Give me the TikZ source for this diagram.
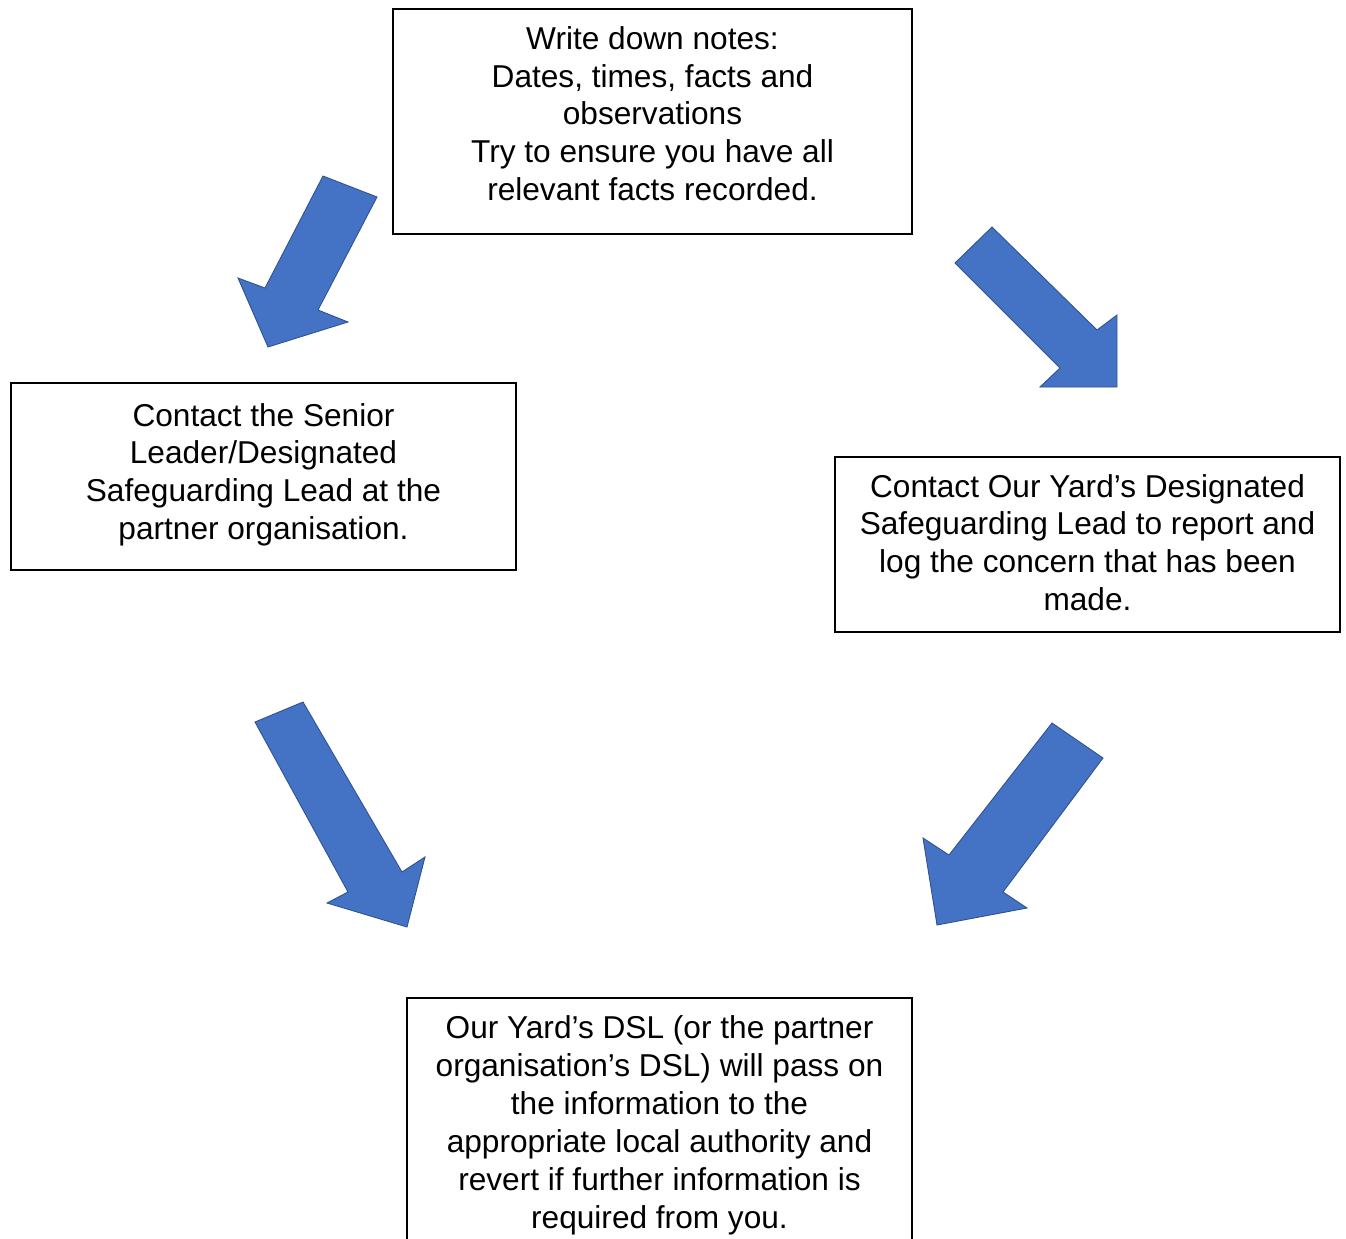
\documentclass[tikz,border=0pt]{standalone}
\usepackage{fontspec}
\setmainfont{Liberation Sans}
\usepackage{xcolor}
\definecolor{arrowblue}{HTML}{4472C4}
\definecolor{arrowedge}{HTML}{2F528F}
\newcommand{\liftby}[1]{\rule[-#1]{0pt}{0pt}}
\newcommand{\dropby}[1]{\rule{0pt}{\dimexpr 0.75em+#1\relax}}

\begin{document}
\begin{tikzpicture}[x=0.02cm, y=-0.02cm]
  \tikzstyle{notebox}=[rectangle, draw=black, line width=0.8pt, fill=white, inner sep=0pt, align=center, font=\fontsize{18}{21.6}\selectfont]
  \tikzstyle{blockarrow}=[fill=arrowblue, draw=arrowedge, line width=0.5pt, line join=miter]

  \useasboundingbox (0,0) rectangle (1346,1238);

  % Boxes
  \node[notebox, minimum width=10.38cm, minimum height=4.5cm] (notes) at (652.5,121.5) {Write down notes:\\Dates, times, facts and\\observations\\Try to ensure you have all\\relevant facts recorded.\liftby{0.32cm}};
  \node[notebox, minimum width=10.1cm, minimum height=3.74cm] (partner) at (263.5,476.5) {Contact the Senior\\Leader/Designated\\Safeguarding Lead at the\\partner organisation.\liftby{0.2cm}};
  \node[notebox, minimum width=10.1cm, minimum height=3.5cm] (ourdsl) at (1087.5,544.5) {Contact Our Yard’s Designated\\Safeguarding Lead to report and\\log the concern that has been\\made.\liftby{0.08cm}};
  \node[notebox, minimum width=10.1cm, minimum height=5cm] (pass) at (659.5,1123) {\dropby{0.08cm}Our Yard’s DSL (or the partner\\organisation’s DSL) will pass on\\the information to the\\appropriate local authority and\\revert if further information is\\required from you.};

  % Block arrows
  \draw[blockarrow] (323,176) -- (377,197) -- (318,310) -- (348,322) -- (268,347) -- (238,278) -- (265,288) -- cycle;
  \draw[blockarrow] (992,227) -- (1097,330) -- (1117,315) -- (1117,387) -- (1040,387) -- (1060,368) -- (955,263) -- cycle;
  \draw[blockarrow] (255,722) -- (303,702) -- (402,872) -- (425,857) -- (407,927) -- (327,903) -- (348,892) -- cycle;
  \draw[blockarrow] (1052,723) -- (1103,758) -- (1003,892) -- (1027,908) -- (937,925) -- (923,838) -- (949,855) -- cycle;
\end{tikzpicture}
\end{document}
